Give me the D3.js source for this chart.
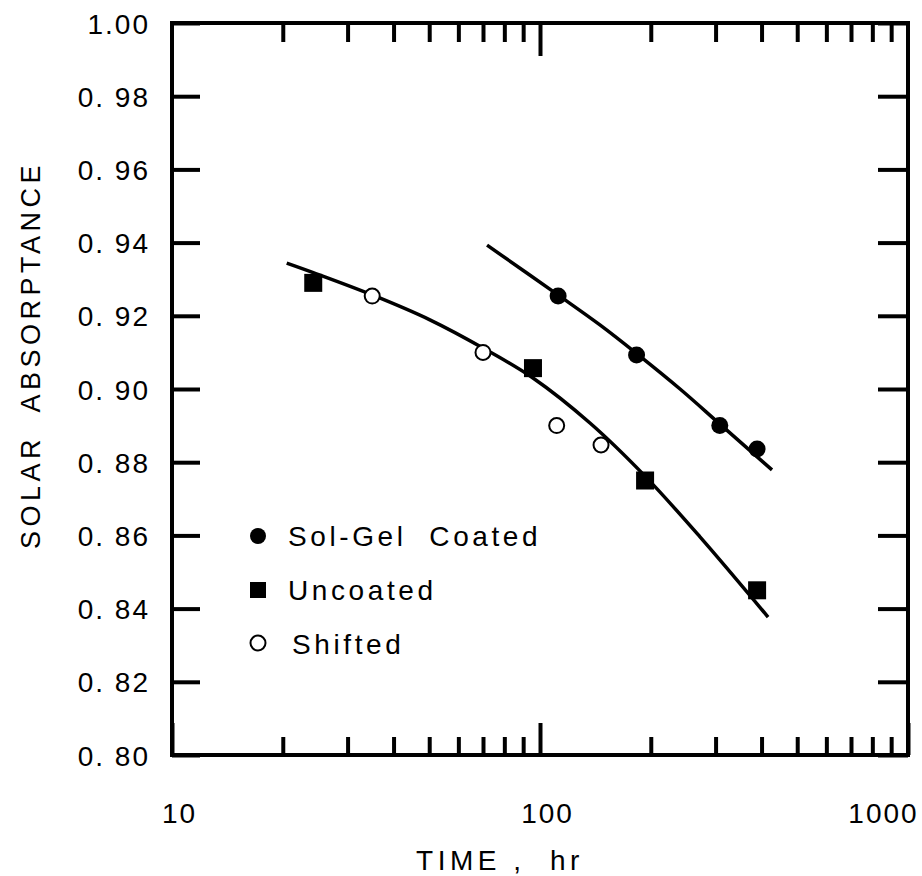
<!DOCTYPE html>
<html>
<head>
<meta charset="utf-8">
<script src="https://cdn.jsdelivr.net/npm/d3@7"></script>
<style>
  body { margin: 0; background: #fff; }
  text { font-family: "Liberation Sans", Arial, sans-serif; fill: #000; }
</style>
</head>
<body>
<svg id="chart" width="922" height="876"></svg>
<script>
/* data */
var solGelTime = [112, 183, 308, 389]
var solGelAbs = [0.9254, 0.9093, 0.890, 0.8836]

var uncoatedTime = [24.2, 95.7, 193, 389]
var uncoatedAbs = [0.929, 0.9057, 0.875, 0.845]

var shiftedTime = [35, 70, 111, 146.5]
var shiftedAbs = [0.9254, 0.910, 0.890, 0.8847]

/* fitted curves, points */
var upperFitTime = [71.8, 111.9, 145.5, 183.5, 240.2, 308.4, 427]
var upperFitAbs = [0.9393, 0.9257, 0.9175, 0.9096, 0.900, 0.8904, 0.8779]

var lowerFitTime = [20.5, 24.2, 35, 50.2, 70, 95.7, 136.7, 192.9, 272.1, 416.6]
var lowerFitAbs = [0.9344, 0.9318, 0.9257, 0.9189, 0.9112, 0.9030, 0.8907, 0.8762, 0.8596, 0.8377]

var majorTimeTicks = [10, 100, 1000]
var minorTimeTicks = [20, 30, 40, 50, 60, 70, 80, 90, 200, 300, 400, 500, 600, 700, 800, 900]
var absTicks = [0.80, 0.82, 0.84, 0.86, 0.88, 0.90, 0.92, 0.94, 0.96, 0.98, 1.00]

var legendLabels = ['Sol-Gel Coated', 'Uncoated', 'Shifted']

var plotLeft = 172, plotRight = 908, plotTop = 23, plotBottom = 755

var svg = d3.select('#chart')
var x = d3.scaleLog().domain([10, 1000]).range([plotLeft, plotRight])
var y = d3.scaleLinear().domain([0.80, 1.00]).range([plotBottom, plotTop])

function zip(ts, vs) { return ts.map(function(t, i) { return [t, vs[i]] }) }

/* axes: ticks point inward on all four sides */
function styleAxis(g) {
	g.select('.domain').remove()
	g.selectAll('.tick line').attr('stroke', '#000').attr('stroke-width', 4)
	g.selectAll('.tick text').style('font-size', '28px').style('font-family', '"Liberation Sans", Arial, sans-serif').attr('fill', '#000')
}

var xLabels = svg.append('g').attr('transform', 'translate(0,' + plotBottom + ')')
	.call(d3.axisBottom(x).tickValues(majorTimeTicks).tickSize(-32).tickPadding(48).tickFormat(d3.format('d')))
	.call(styleAxis)
svg.append('g').attr('transform', 'translate(0,' + plotBottom + ')')
	.call(d3.axisBottom(x).tickValues(minorTimeTicks).tickSize(-18).tickFormat(''))
	.call(styleAxis)
svg.append('g').attr('transform', 'translate(0,' + plotTop + ')')
	.call(d3.axisTop(x).tickValues([100]).tickSize(-33).tickFormat(''))
	.call(styleAxis)
svg.append('g').attr('transform', 'translate(0,' + plotTop + ')')
	.call(d3.axisTop(x).tickValues(minorTimeTicks).tickSize(-19).tickFormat(''))
	.call(styleAxis)

/* nudge x labels to where they sit on the original */
xLabels.selectAll('.tick text')
	.style('letter-spacing', '2px')
	.attr('dx', function(d) { return d === 1000 ? -25 : 7 })

svg.append('g').attr('transform', 'translate(' + plotLeft + ',0)')
	.call(d3.axisLeft(y).tickValues(absTicks).tickSize(-28).tickPadding(22)
		.tickFormat(function(d) { return d === 1 ? '1.00' : d3.format('.2f')(d).replace('.', '. ') }))
	.call(styleAxis)
	.selectAll('.tick text').style('letter-spacing', '2px').attr('dy', '0.36em')
svg.append('g').attr('transform', 'translate(' + plotRight + ',0)')
	.call(d3.axisRight(y).tickValues(absTicks).tickSize(-30).tickFormat(''))
	.call(styleAxis)

/* frame */
svg.append('rect')
	.attr('x', plotLeft).attr('y', plotTop)
	.attr('width', plotRight - plotLeft).attr('height', plotBottom - plotTop)
	.attr('fill', 'none').attr('stroke', '#000').attr('stroke-width', 4)

/* fitted curves */
var line = d3.line()
	.x(function(d) { return x(d[0]) })
	.y(function(d) { return y(d[1]) })
	.curve(d3.curveCatmullRom.alpha(0.5))

svg.append('path').datum(zip(upperFitTime, upperFitAbs))
	.attr('d', line).attr('fill', 'none').attr('stroke', '#000').attr('stroke-width', 3.5)
svg.append('path').datum(zip(lowerFitTime, lowerFitAbs))
	.attr('d', line).attr('fill', 'none').attr('stroke', '#000').attr('stroke-width', 3.5)

/* points */
svg.append('g').selectAll('circle').data(zip(shiftedTime, shiftedAbs)).enter().append('circle')
	.attr('cx', function(d) { return x(d[0]) })
	.attr('cy', function(d) { return y(d[1]) })
	.attr('r', 7.5).attr('fill', '#fff').attr('stroke', '#000').attr('stroke-width', 2)

svg.append('g').selectAll('rect').data(zip(uncoatedTime, uncoatedAbs)).enter().append('rect')
	.attr('x', function(d) { return x(d[0]) - 9 })
	.attr('y', function(d) { return y(d[1]) - 9 })
	.attr('width', 18).attr('height', 18).attr('fill', '#000')

svg.append('g').selectAll('circle').data(zip(solGelTime, solGelAbs)).enter().append('circle')
	.attr('cx', function(d) { return x(d[0]) })
	.attr('cy', function(d) { return y(d[1]) })
	.attr('r', 8.5).attr('fill', '#000')

/* legend */
var legend = svg.append('g').attr('transform', 'translate(258,536)')
legend.append('circle').attr('cx', 0).attr('cy', 0).attr('r', 8).attr('fill', '#000')
legend.append('rect').attr('x', -8).attr('y', 46).attr('width', 16).attr('height', 16).attr('fill', '#000')
legend.append('circle').attr('cx', 0).attr('cy', 107).attr('r', 7.5).attr('fill', 'none').attr('stroke', '#000').attr('stroke-width', 2)
legend.selectAll('text').data(legendLabels).enter().append('text')
	.attr('x', function(d, i) { return i == 2 ? 34 : 30 })
	.attr('y', function(d, i) { return i * 54 + 10 })
	.style('font-size', '28px').style('letter-spacing', '3.6px').style('white-space', 'pre')
	.text(function(d) { return d.replace(' ', '  ') })

/* axis titles */
svg.append('text')
	.attr('x', 500).attr('y', 870).attr('text-anchor', 'middle')
	.style('font-size', '28px').style('letter-spacing', '4.5px').style('white-space', 'pre')
	.text('TIME ,  hr')
svg.append('text')
	.attr('transform', 'translate(40,355) rotate(-90)').attr('text-anchor', 'middle')
	.style('font-size', '27px').style('letter-spacing', '4.5px').style('white-space', 'pre')
	.text('SOLAR  ABSORPTANCE')
</script>
</body>
</html>
